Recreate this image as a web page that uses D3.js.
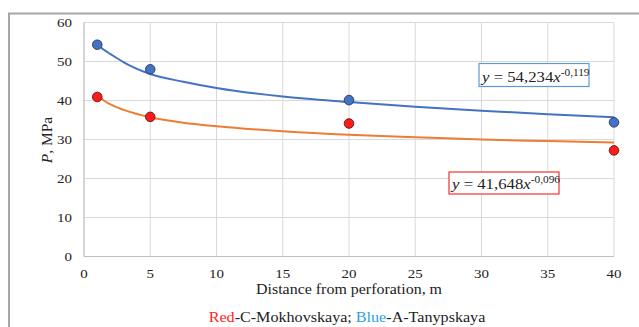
<!DOCTYPE html>
<html><head>
<meta charset="utf-8">
<script src="https://d3js.org/d3.v7.min.js"></script>
<style>
  body { margin: 0; background: #fff; }
  text { font-family: "Liberation Serif", "Times New Roman", serif; fill: #222; }
  .grid line { stroke: #d9d9d9; stroke-width: 1px; }
</style>
</head>
<body>
<svg id="chart" width="639" height="327"></svg>
<script>
// data
const distances = [1, 5, 20, 40];
const blueValues = [54.3, 48.0, 40.1, 34.4];
const redValues = [40.9, 35.8, 34.1, 27.2];
const xTicks = [0, 5, 10, 15, 20, 25, 30, 35, 40];
const yTicks = [0, 10, 20, 30, 40, 50, 60];
// trendlines
const trendX = [1, 1.5, 2, 3, 5, 7.5, 10, 15, 20, 25, 30, 35, 40];
const blueTrend = [54.3, 53.0, 51.9, 49.8, 46.8, 44.8, 43.2, 41.0, 39.6, 38.4, 37.4, 36.5, 35.7];
const redTrend = [41.6, 40.0, 39.0, 37.6, 35.7, 34.3, 33.4, 32.1, 31.2, 30.6, 30.0, 29.6, 29.2];
const blueEq = {coef: "54,234", exp: "-0,119"};
const redEq = {coef: "41,648", exp: "-0,096"};

const svg = d3.select("#chart");
const x = d3.scaleLinear().domain([0, 40]).range([84, 614]);
const y = d3.scaleLinear().domain([0, 60]).range([256.5, 22.5]);

// outer frame
svg.append("path").attr("d", "M9,340 V13.5 H639")
   .attr("fill", "none").attr("stroke", "#a6a6a6").attr("stroke-width", 2);

// gridlines
const grid = svg.append("g").attr("class", "grid");
grid.selectAll("line.h").data(yTicks).join("line").attr("class", "h")
    .attr("x1", x(0)).attr("x2", x(40)).attr("y1", d => y(d)).attr("y2", d => y(d));
grid.selectAll("line.v").data(xTicks).join("line").attr("class", "v")
    .attr("y1", y(0)).attr("y2", y(60)).attr("x1", d => x(d)).attr("x2", d => x(d));
svg.append("line").attr("x1", x(0)).attr("x2", x(0)).attr("y1", y(0)).attr("y2", y(60))
   .attr("stroke", "#bfbfbf");
svg.append("line").attr("x1", x(0)).attr("x2", x(40)).attr("y1", y(0)).attr("y2", y(0))
   .attr("stroke", "#bfbfbf");

// tick labels (source picture is a bit stretched sideways)
svg.selectAll("text.yt").data(yTicks).join("text").attr("class", "yt")
   .attr("transform", d => "translate(72," + (y(d) + 4.5) + ") scale(1.2,1)")
   .attr("text-anchor", "end").attr("font-size", 12.5).text(d => d);
svg.selectAll("text.xt").data(xTicks).join("text").attr("class", "xt")
   .attr("transform", d => "translate(" + x(d) + ",278) scale(1.2,1)")
   .attr("text-anchor", "middle").attr("font-size", 12.5).text(d => d);

// axis titles
svg.append("text").attr("transform", "translate(349,294) scale(1.03,1)")
   .attr("text-anchor", "middle").attr("font-size", 15.5).text("Distance from perforation, m");
const yt = svg.append("text").attr("transform", "translate(52,140) rotate(-90)")
   .attr("text-anchor", "middle").attr("font-size", 15.5);
yt.append("tspan").attr("font-style", "italic").text("P");
yt.append("tspan").text(", MPa");

// trendlines
const line = d3.line().x(d => x(d[0])).y(d => y(d[1])).curve(d3.curveMonotoneX);
[[blueTrend, "#4472c4"], [redTrend, "#ed7d31"]].forEach(([vals, c]) => {
  svg.append("path").datum(trendX.map((v, i) => [v, vals[i]]))
     .attr("d", line).attr("fill", "none").attr("stroke", c).attr("stroke-width", 2);
});

// points
svg.selectAll("circle.blue").data(distances).join("circle").attr("class", "blue")
   .attr("cx", d => x(d)).attr("cy", (d, i) => y(blueValues[i])).attr("r", 4.8)
   .attr("fill", "#4472c4").attr("stroke", "#263a5e").attr("stroke-width", 0.9);
svg.selectAll("circle.red").data(distances).join("circle").attr("class", "red")
   .attr("cx", d => x(d)).attr("cy", (d, i) => y(redValues[i])).attr("r", 4.8)
   .attr("fill", "#ff1a1a").attr("stroke", "#5a1a1a").attr("stroke-width", 0.9);

// equation labels
function eqBox(eq, bx, by, bw, bh, stroke) {
  svg.append("rect").attr("x", bx).attr("y", by).attr("width", bw).attr("height", bh)
     .attr("fill", "#fff").attr("stroke", stroke).attr("stroke-width", 1.2);
  const t = svg.append("text").attr("transform", "translate(" + (bx + 3) + "," + (by + bh - 5) + ") scale(1.08,1)")
     .attr("font-size", 15.5);
  t.append("tspan").attr("font-style", "italic").text("y");
  t.append("tspan").text(" = " + eq.coef);
  t.append("tspan").attr("font-style", "italic").text("x");
  t.append("tspan").attr("font-size", 10.5).attr("dy", -6).text(eq.exp);
}
eqBox(blueEq, 479, 63.5, 110, 23, "#5b9bd5");
eqBox(redEq, 449, 172, 110, 22, "#ee3333");

// legend line
const lg = svg.append("text").attr("transform", "translate(347,322) scale(1.04,1)")
   .attr("text-anchor", "middle").attr("font-size", 15.5);
lg.append("tspan").style("fill", "#ff2222").text("Red");
lg.append("tspan").text("-C-Mokhovskaya;  ");
lg.append("tspan").style("fill", "#29a3e0").text("Blue");
lg.append("tspan").text("-A-Tanypskaya");
</script>
</body>
</html>
